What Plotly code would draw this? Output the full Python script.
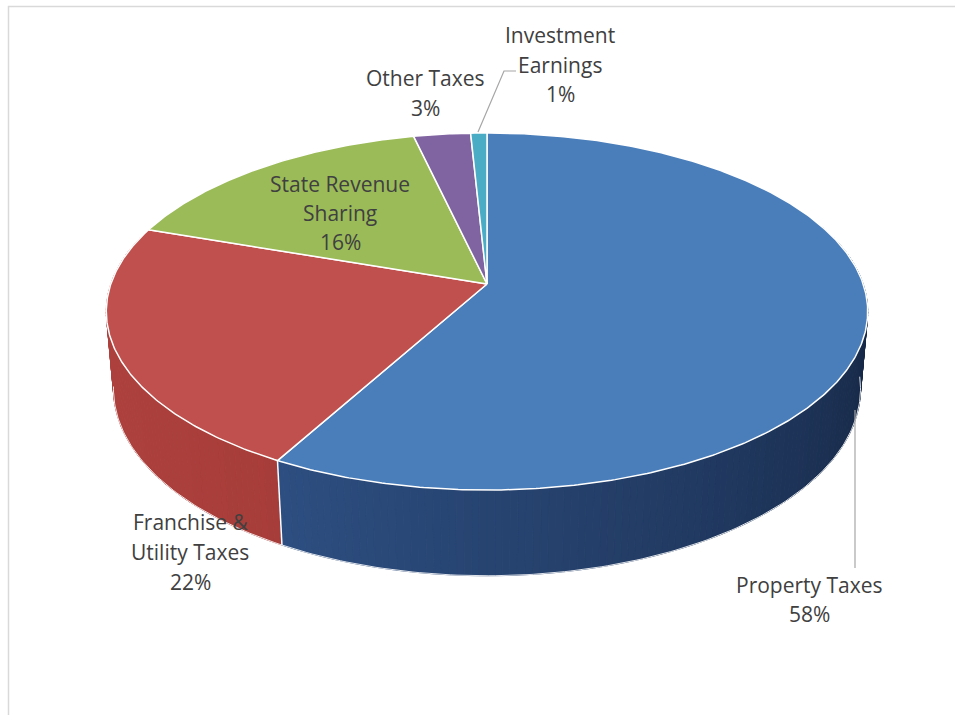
import numpy as np
import plotly.graph_objects as go

# ---------------- data ----------------
categories = ["Property Taxes", "Franchise & Utility Taxes", "State Revenue Sharing",
              "Other Taxes", "Investment Earnings"]
values = [58.0, 22.3, 16.1, 2.8, 0.8]
label_lines = [["Property Taxes"], ["Franchise &", "Utility Taxes"], ["State Revenue", "Sharing"],
               ["Other Taxes"], ["Investment", "Earnings"]]

# ---------------- style ----------------
top_colors = ["#4A7EBB", "#C0504D", "#9BBB59", "#8064A2", "#4BACC6"]
wall_dark = [(20, 36, 64), (150, 52, 49), (110, 135, 60), (90, 70, 115), (50, 120, 140)]
wall_light = [(58, 100, 162), (176, 66, 62), (130, 160, 75), (105, 85, 135), (60, 140, 160)]
TEXT_COLOR = "#404040"
FONT = "Open Sans"
FSIZE = 21

# label layout (line centres in pixels)
label_pos = {
    "Property Taxes": (809, [585, 614]),
    "Franchise & Utility Taxes": (190, [522, 552, 582]),
    "State Revenue Sharing": (340, [184, 213, 242]),
    "Other Taxes": (425, [78, 108]),
    "Investment Earnings": (560, [35, 65, 94]),
}

# projection of a tilted disc (perspective)
CX, CY = 487, 284
ELEV = np.radians(27.6)
S, C = np.sin(ELEV), np.cos(ELEV)
DIST = 5.75
FOC = 2163.0
DEPTH = 0.234


def proj(theta_deg, r, z):
    t = np.radians(theta_deg)
    X = r * np.sin(t)
    Y = -r * np.cos(t)
    w = DIST - Y * C - z * S
    return CX + X * FOC / w, CY + (Y * S - z * C) * FOC / w


total = float(sum(values))
bounds = np.concatenate([[0.0], np.cumsum(values)]) / total * 360.0


def slice_of(theta):
    th = theta % 360
    for i in range(len(values)):
        if bounds[i] <= th < bounds[i + 1]:
            return i
    return len(values) - 1


def rgb(c):
    return "rgb(%d,%d,%d)" % tuple(int(round(v)) for v in c)


fig = go.Figure()

# ---- outer wall strips (back to front) ----
edges = set(np.round(np.arange(70.0, 291.0, 1.0), 6))
for b in bounds:
    if 70 < b < 290:
        edges.add(round(float(b), 6))
edges = sorted(edges)
strips = []
for a0, a1 in zip(edges[:-1], edges[1:]):
    mid = 0.5 * (a0 + a1)
    strips.append((-np.cos(np.radians(mid)), a0, a1, mid))
strips.sort(key=lambda s: s[0])
for _, a0, a1, mid in strips:
    i = slice_of(mid)
    t = np.clip((mid - 90.0) / 180.0, 0, 1)
    col = [wall_dark[i][k] + t * (wall_light[i][k] - wall_dark[i][k]) for k in range(3)]
    xa, ya = proj(np.array([a0, a1, a1, a0, a0]), 1.0, np.array([0, 0, -DEPTH, -DEPTH, 0]))
    fig.add_trace(go.Scatter(x=xa, y=ya, mode="lines", fill="toself", fillcolor=rgb(col),
                             line=dict(color=rgb(col), width=1), hoverinfo="skip", showlegend=False))

# bottom silhouette highlight
th = np.linspace(95, 262, 200)
bx, by = proj(th, 1.0, -DEPTH)
fig.add_trace(go.Scatter(x=bx, y=by, mode="lines", line=dict(color="rgba(255,255,255,0.85)", width=1),
                         hoverinfo="skip", showlegend=False))
# vertical slice edges on the wall
for b in bounds:
    if 95 < b < 265:
        vx, vy = proj(np.array([b, b]), 1.0, np.array([0, -DEPTH]))
        fig.add_trace(go.Scatter(x=vx, y=vy, mode="lines", line=dict(color="white", width=1.5),
                                 hoverinfo="skip", showlegend=False))

# ---- top faces ----
for i, cat in enumerate(categories):
    n = max(4, int((bounds[i + 1] - bounds[i]) / 0.5))
    arc = np.linspace(bounds[i], bounds[i + 1], n)
    ax_, ay_ = proj(arc, 1.0, 0.0)
    px, py = proj(0.0, 0.0, 0.0)
    xs = np.concatenate([[px], ax_, [px]])
    ys = np.concatenate([[py], ay_, [py]])
    fig.add_trace(go.Scatter(x=xs, y=ys, mode="lines", fill="toself", fillcolor=top_colors[i],
                             line=dict(color="white", width=1.5), name=cat,
                             hoverinfo="skip", showlegend=False))

# ---- labels ----
annotations = []
for i, cat in enumerate(categories):
    pct = "%d%%" % round(values[i] / total * 100)
    lines = label_lines[i] + [pct]
    x0, ys = label_pos[cat]
    for txt, yy in zip(lines, ys):
        annotations.append(dict(x=x0, y=yy, xref="x", yref="y", text=txt, showarrow=False,
                                xanchor="center", yanchor="middle",
                                font=dict(family=FONT, size=FSIZE, color=TEXT_COLOR)))

shapes = [
    # chart frame
    dict(type="rect", xref="paper", yref="paper", x0=8.5 / 955, y0=1 - 6.5 / 715, x1=1.2, y1=-0.2,
         line=dict(color="#D9D9D9", width=1.5), fillcolor="rgba(0,0,0,0)", layer="below"),
    # leader lines
    dict(type="path", xref="x", yref="y", path="M 855 410 L 855 568",
         line=dict(color="#A6A6A6", width=1.2)),
    dict(type="path", xref="x", yref="y", path="M 516 71 L 504 71 L 478 132",
         line=dict(color="#A6A6A6", width=1.2)),
]

fig.update_layout(
    width=955, height=715, autosize=False,
    margin=dict(l=0, r=0, t=0, b=0, pad=0),
    paper_bgcolor="white", plot_bgcolor="white",
    xaxis=dict(range=[0, 955], visible=False, fixedrange=True),
    yaxis=dict(range=[715, 0], visible=False, fixedrange=True),
    annotations=annotations, shapes=shapes, showlegend=False,
)

fig.write_html("out.html")
